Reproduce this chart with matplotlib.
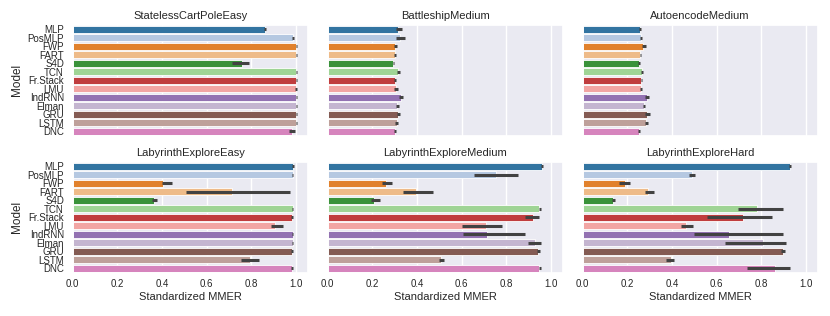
import matplotlib
matplotlib.use("Agg")
import matplotlib.pyplot as plt
import seaborn as sns
import numpy as np

sns.set_theme(style="darkgrid")
plt.rcParams['font.family'] = ['Liberation Sans', 'DejaVu Sans']

models = ["MLP", "PosMLP", "FWP", "FART", "S4D", "TCN", "Fr.Stack", "LMU",
          "IndRNN", "Elman", "GRU", "LSTM", "DNC"]

envs = ["StatelessCartPoleEasy", "BattleshipMedium", "AutoencodeMedium",
        "LabyrinthExploreEasy", "LabyrinthExploreMedium", "LabyrinthExploreHard"]

# mean values and confidence intervals
cartpole_mean = [0.861, 0.985, 1.0, 1.0, 0.758, 1.0, 1.0, 0.999, 1.0, 1.0, 1.0, 1.0, 0.98]
cartpole_lo   = [0.857, 0.980, 0.998, 0.998, 0.715, 0.998, 0.998, 0.996, 0.998, 0.998, 0.998, 0.998, 0.967]
cartpole_hi   = [0.866, 0.990, 1.003, 1.003, 0.787, 1.002, 1.002, 1.002, 1.002, 1.002, 1.002, 1.002, 0.997]

battle_mean = [0.316, 0.322, 0.303, 0.301, 0.294, 0.315, 0.301, 0.304, 0.326, 0.310, 0.315, 0.309, 0.300]
battle_lo   = [0.304, 0.307, 0.299, 0.297, 0.291, 0.309, 0.297, 0.295, 0.319, 0.304, 0.309, 0.303, 0.297]
battle_hi   = [0.334, 0.346, 0.309, 0.307, 0.298, 0.322, 0.307, 0.314, 0.338, 0.319, 0.322, 0.316, 0.304]

auto_mean = [0.257, 0.261, 0.272, 0.258, 0.252, 0.264, 0.263, 0.260, 0.287, 0.273, 0.287, 0.284, 0.252]
auto_lo   = [0.254, 0.258, 0.266, 0.255, 0.249, 0.260, 0.259, 0.256, 0.278, 0.269, 0.278, 0.278, 0.249]
auto_hi   = [0.261, 0.265, 0.282, 0.262, 0.256, 0.268, 0.267, 0.265, 0.299, 0.280, 0.302, 0.293, 0.256]

labeasy_mean = [0.985, 0.985, 0.406, 0.712, 0.366, 0.985, 0.980, 0.906, 0.985, 0.985, 0.980, 0.794, 0.980]
labeasy_lo   = [0.980, 0.982, 0.400, 0.506, 0.354, 0.982, 0.976, 0.887, 0.982, 0.982, 0.976, 0.752, 0.976]
labeasy_hi   = [0.990, 0.988, 0.443, 0.973, 0.379, 0.988, 0.985, 0.940, 0.988, 0.988, 0.985, 0.834, 0.985]

labmed_mean = [0.960, 0.755, 0.263, 0.396, 0.206, 0.948, 0.918, 0.708, 0.715, 0.930, 0.942, 0.507, 0.948]
labmed_lo   = [0.955, 0.653, 0.242, 0.337, 0.194, 0.944, 0.883, 0.600, 0.604, 0.898, 0.935, 0.500, 0.944]
labmed_hi   = [0.965, 0.850, 0.289, 0.473, 0.233, 0.953, 0.948, 0.782, 0.883, 0.955, 0.949, 0.520, 0.953]

labhard_mean = [0.928, 0.491, 0.191, 0.291, 0.137, 0.782, 0.716, 0.463, 0.657, 0.806, 0.896, 0.394, 0.861]
labhard_lo   = [0.924, 0.478, 0.164, 0.280, 0.130, 0.694, 0.558, 0.439, 0.499, 0.639, 0.888, 0.373, 0.734]
labhard_hi   = [0.932, 0.503, 0.212, 0.319, 0.146, 0.898, 0.849, 0.496, 0.898, 0.912, 0.905, 0.410, 0.928]

means = [cartpole_mean, battle_mean, auto_mean, labeasy_mean, labmed_mean, labhard_mean]
los = [cartpole_lo, battle_lo, auto_lo, labeasy_lo, labmed_lo, labhard_lo]
his = [cartpole_hi, battle_hi, auto_hi, labeasy_hi, labmed_hi, labhard_hi]

colors = [sns.desaturate(c, 0.75) for c in plt.get_cmap("tab20").colors[:len(models)]]

fig = plt.figure(figsize=(8.3, 3.16), dpi=100)
W, H = 830, 316
lefts = [72.7, 327.7, 582.7]
tops = [25, 162]
aw, ah = 235, 110.5

ticks = [0.0, 0.2, 0.4, 0.6, 0.8, 1.0]
for i, env in enumerate(envs):
    r, c = divmod(i, 3)
    ax = fig.add_axes([lefts[c] / W, 1 - (tops[r] + ah) / H, aw / W, ah / H])
    y = np.arange(len(models))
    ax.barh(y, means[i], height=0.8, color=colors, edgecolor="white", linewidth=0.6, zorder=2)
    for k in range(len(models)):
        ax.plot([los[i][k], his[i][k]], [y[k], y[k]], color=".26", lw=2.2,
                solid_capstyle="butt", zorder=3)
    ax.set_xlim(0, 1.052)
    ax.set_ylim(len(models) - 0.5, -0.5)
    ax.set_xticks(ticks)
    ax.grid(axis="y", visible=False)
    ax.grid(axis="x", color="white", lw=1.0)
    ax.set_title(env, fontsize=8, pad=4)
    ax.tick_params(axis="both", length=0, labelsize=7)
    ax.tick_params(axis="y", pad=6.3)
    ax.tick_params(axis="x", pad=5)
    ax.set_yticks(y)
    if c == 0:
        ax.set_yticklabels(models)
        ax.set_ylabel("Model", fontsize=8.5, labelpad=3)
    else:
        ax.set_yticklabels([])
    if r == 1:
        ax.set_xticklabels([f"{t:.1f}" for t in ticks])
        ax.set_xlabel("Standardized MMER", fontsize=8, labelpad=2)
    else:
        ax.set_xticklabels([])

fig.savefig("out.png", dpi=100)
